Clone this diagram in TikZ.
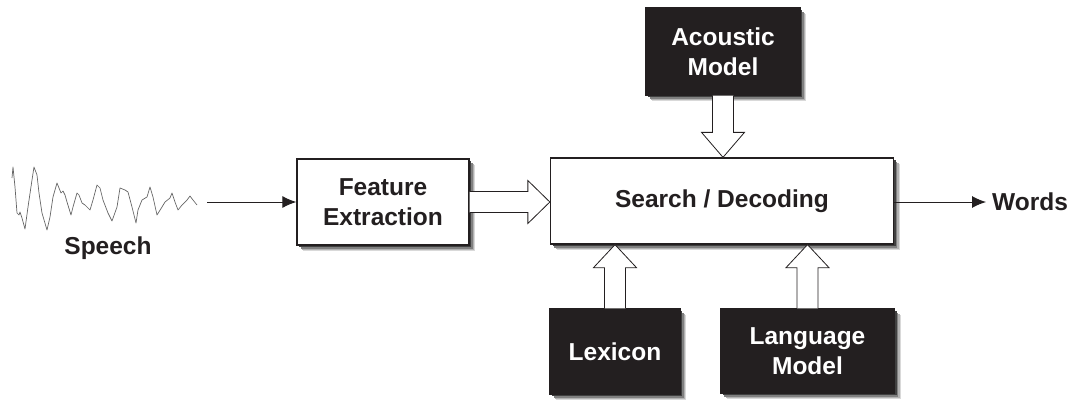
\documentclass[tikz,border=0pt]{standalone}
\usepackage{fontspec}
\setmainfont{Liberation Sans}
\usetikzlibrary{calc,shadows,arrows.meta}
\definecolor{boxblack}{HTML}{231F20}
\tikzset{
  shadowed/.style={
    general shadow={shadow xshift=6pt,shadow yshift=-6pt,fill=black!15},
    general shadow={shadow xshift=5pt,shadow yshift=-5pt,fill=black!30},
    general shadow={shadow xshift=3.5pt,shadow yshift=-3.5pt,fill=black!50},
    general shadow={shadow xshift=2pt,shadow yshift=-2pt,fill=black!75}},
  whitebox/.style={shadowed,draw=boxblack,fill=white,line width=1.3pt,inner sep=0pt,
    align=center,font=\fontsize{24.5}{30}\selectfont\bfseries,text=boxblack},
  blackbox/.style={shadowed,draw=boxblack,fill=boxblack,line width=1.3pt,inner sep=0pt,
    align=center,font=\fontsize{24.5}{30}\selectfont\bfseries,text=white},
  lbl/.style={font=\fontsize{24.5}{30}\selectfont\bfseries,text=boxblack,inner sep=0pt},
  blockarrow/.style={draw=boxblack,fill=white,line width=0.8pt,line join=miter},
  thinarrow/.style={draw=boxblack,line width=1pt,-{Latex[length=14pt,width=12pt]}},
  wave/.style={draw=black!60,line width=0.7pt,line join=round}
}
\begin{document}
\begin{tikzpicture}[x=1pt,y=-1pt]
\useasboundingbox (0,0) rectangle (1069,402);
% boxes
\node[whitebox,minimum width=172pt,minimum height=86pt] (fe) at (383,202) {Feature\\Extraction};
\node[whitebox,minimum width=343pt,minimum height=86pt] (sd) at (722,201) {Search / Decoding};
\node[blackbox,minimum width=154pt,minimum height=87pt] (am) at (723,51.5) {Acoustic\\Model};
\node[blackbox,minimum width=130pt,minimum height=85pt] (lx) at (615,351.5) {Lexicon};
\node[blackbox,minimum width=174pt,minimum height=84pt] (lm) at (807.5,351) {Language\\Model};
% labels
\node[lbl] (sp) at (108,248) {Speech};
\node[lbl,anchor=west] (wd) at (992,202) {Words};
% waveform
\draw[wave] (12,178) -- (13,167) -- (15,187) -- (17,213) -- (19,215) -- (20,212) -- (22,218) -- (25,229)
 -- (28,207) -- (32,180) -- (34,167) -- (37,175) -- (39,193) -- (42,213) -- (47,230) -- (50,217)
 -- (53,197) -- (57,183) -- (59,188) -- (61,193) -- (63,191) -- (65,195) -- (67,202) -- (71,215)
 -- (73,207) -- (77,193) -- (79,195) -- (82,203) -- (85,205) -- (90,210) -- (93,200) -- (97,185)
 -- (100,188) -- (103,200) -- (108,213) -- (112,221) -- (117,207) -- (120,188) -- (125,190)
 -- (128,192) -- (132,207) -- (136,223) -- (138,210) -- (142,200) -- (147,197) -- (150,187)
 -- (153,197) -- (157,215) -- (162,207) -- (165,202) -- (170,198) -- (172,193) -- (175,202)
 -- (178,210) -- (182,205) -- (187,200) -- (190,196) -- (193,200) -- (197,205);
% thin arrows
\coordinate (spend) at (207,202);
\draw[thinarrow] (spend) -- (fe.west |- spend);
\draw[thinarrow] (sd.east |- wd.west) -- ($(wd.west)+(-6,0)$);
% block arrow: feature -> search
\coordinate (t1) at (sd.west |- fe.east);
\draw[blockarrow] ($(fe.east)+(0,-10.5)$) -- ($(t1)+(-22,-10.5)$) -- ($(t1)+(-22,-21.5)$) -- (t1)
  -- ($(t1)+(-22,21.5)$) -- ($(t1)+(-22,10.5)$) -- ($(fe.east)+(0,10.5)$);
% block arrow: acoustic -> search
\coordinate (t2) at (am.south |- sd.north);
\draw[blockarrow] ($(am.south)+(-10.5,0)$) -- ($(t2)+(-10.5,-25)$) -- ($(t2)+(-21.5,-25)$) -- (t2)
  -- ($(t2)+(21.5,-25)$) -- ($(t2)+(10.5,-25)$) -- ($(am.south)+(10.5,0)$);
% block arrow: lexicon -> search
\coordinate (t3) at (lx.north |- sd.south);
\draw[blockarrow] ($(lx.north)+(-10.5,0)$) -- ($(t3)+(-10.5,23)$) -- ($(t3)+(-21.5,23)$) -- (t3)
  -- ($(t3)+(21.5,23)$) -- ($(t3)+(10.5,23)$) -- ($(lx.north)+(10.5,0)$);
% block arrow: language model -> search
\coordinate (t4) at (lm.north |- sd.south);
\draw[blockarrow] ($(lm.north)+(-10.5,0)$) -- ($(t4)+(-10.5,23)$) -- ($(t4)+(-21.5,23)$) -- (t4)
  -- ($(t4)+(21.5,23)$) -- ($(t4)+(10.5,23)$) -- ($(lm.north)+(10.5,0)$);
\end{tikzpicture}
\end{document}
